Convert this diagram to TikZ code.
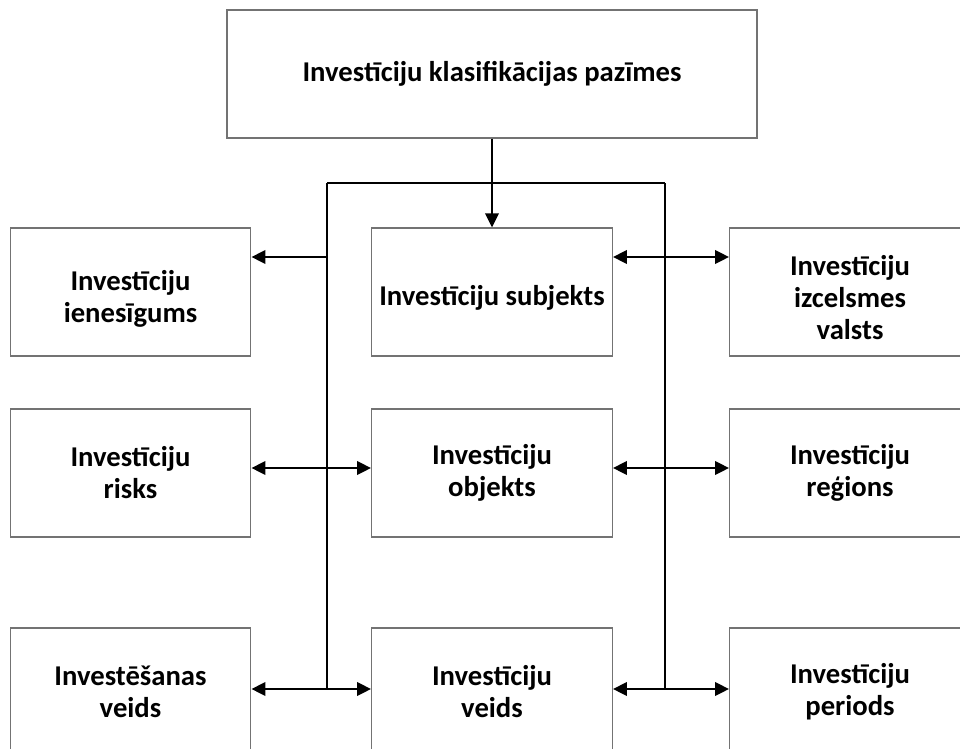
\documentclass[tikz,border=0pt]{standalone}
\usepackage{fontspec}
\setmainfont{Carlito}
\usetikzlibrary{arrows.meta}
\begin{document}
\begin{tikzpicture}[x=0.75pt,y=-0.75pt,
  txt/.style={align=flush center, inner sep=1pt, text width=178pt,
    font=\fontsize{21.5}{24}\selectfont\bfseries, text=black},
  box/.style={txt, draw=black!55, line width=0.9pt, fill=white},
  sbox/.style={box, minimum width=180.5pt, minimum height=96pt},
  bus/.style={line width=1.8pt},
  vbus/.style={line width=1.3pt},
  arr/.style={line width=1.9pt, -{Triangle[length=10.5pt,width=10pt]}},
  darr/.style={line width=1.9pt, {Triangle[length=10.5pt,width=10pt]}-{Triangle[length=10.5pt,width=10pt]}}]
\clip (0,0) rectangle (960,749);
\fill[white] (0,0) rectangle (960,749);

\node[box, text width=390pt, minimum width=397.5pt, minimum height=96pt] (top) at (492,74) {Investīciju klasifikācijas pazīmes};

\node[sbox] (l1) at (130.5,292) {};
\node[sbox] (m1) at (492,292) {};
\node[sbox] (r1) at (850,292) {};
\node[txt] (l1t) at (130.5,299) {Investīciju\\ienesīgums};
\node[txt] (m1t) at (492,298) {Investīciju subjekts};
\node[txt] (r1t) at (850,298) {Investīciju\\izcelsmes\\valsts};

\node[sbox] (l2) at (130.5,473) {Investīciju\\risks};
\node[sbox] (m2) at (492,473) {Investīciju\\objekts};
\node[sbox] (r2) at (850,473) {Investīciju\\reģions};

\node[sbox] (l3) at (130.5,692) {Investēšanas\\veids};
\node[sbox] (m3) at (492,692) {Investīciju\\veids};
\node[sbox] (r3) at (850,692) {Investīciju\\periods};

\coordinate (bl) at (327,183);
\coordinate (br) at (665,183);
\coordinate (jl1) at (327,257);
\coordinate (jr1) at (665,257);
\coordinate (jl2) at (327,468);
\coordinate (jr2) at (665,468);
\coordinate (jl3) at (327,689);
\coordinate (jr3) at (665,689);

\draw[bus] (bl) -- (br);
\draw[bus] (bl) -- (jl1);
\draw[bus] (br) -- (jr1);
\draw[vbus] (jl1) -- (jl3);
\draw[vbus] (jr1) -- (jr3);

\draw[arr] (top.south) -- (m1.north);

\draw[arr] (jl1) -- (jl1 -| l1.east);
\draw[darr] (jr1 -| m1.east) -- (jr1 -| r1.west);

\draw[darr] (jl2 -| l2.east) -- (jl2 -| m2.west);
\draw[darr] (jr2 -| m2.east) -- (jr2 -| r2.west);

\draw[darr] (jl3 -| l3.east) -- (jl3 -| m3.west);
\draw[darr] (jr3 -| m3.east) -- (jr3 -| r3.west);
\end{tikzpicture}
\end{document}
